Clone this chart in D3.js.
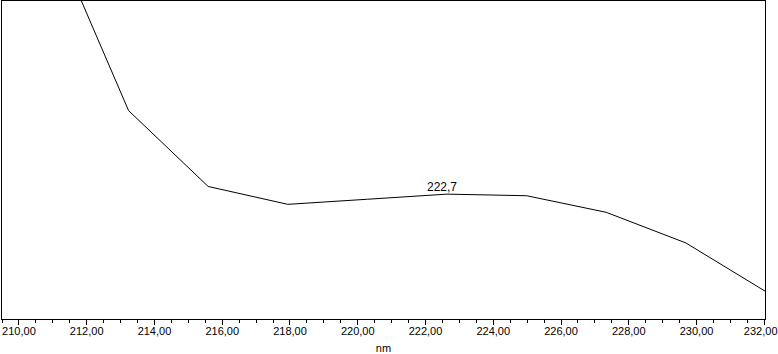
<!DOCTYPE html>
<html><head><meta charset="utf-8">
<script src="https://cdn.jsdelivr.net/npm/d3@7"></script>
<style>body{margin:0;background:#fff}svg{display:block}</style>
</head><body>
<script>
const wavelengths = [210.9, 213.25, 215.6, 217.95, 220.3, 222.65, 225.0, 227.35, 229.7, 232.05];
const absorbance = [1.235, 0.655, 0.417, 0.361, 0.377, 0.393, 0.388, 0.336, 0.240, 0.088];
const majorTicks = [210, 212, 214, 216, 218, 220, 222, 224, 226, 228, 230, 232];
const peakLabel = {x: 222.65, y: 0.393, text: "222,7"};
const xTitle = "nm";

const W = 778, H = 354;
const L = 1.5, R = 765.5, T = 0.5, B = 319.5;
const svg = d3.select("body").append("svg").attr("width", W).attr("height", H);
const x = d3.scaleLinear().domain([209.5, 232.05]).range([L, R]);
const y = d3.scaleLinear().domain([0, 1]).range([B, T]);

svg.append("clipPath").attr("id","c").append("rect")
  .attr("x", L).attr("y", T).attr("width", R-L).attr("height", B-T);

svg.append("rect").attr("x", L).attr("y", T).attr("width", R-L).attr("height", B-T)
  .attr("fill","none").attr("stroke","#000").attr("stroke-width",1);

const data = wavelengths.map((w,i)=>[w, absorbance[i]]);
svg.append("path").datum(data).attr("clip-path","url(#c)")
  .attr("fill","none").attr("stroke","#000").attr("stroke-width",1)
  .attr("d", d3.line().x(d=>x(d[0])).y(d=>y(d[1])));

const minor = d3.range(209.5, 232.01, 0.5).filter(v => Math.abs(v/2 - Math.round(v/2)) > 1e-6);
const ax = svg.append("g").attr("transform", `translate(0,${B})`);
ax.call(d3.axisBottom(x).tickValues(minor).tickSize(3).tickFormat(""));
ax.select(".domain").remove();
const ax2 = svg.append("g").attr("transform", `translate(0,${B})`);
ax2.call(d3.axisBottom(x).tickValues(majorTicks).tickSize(5).tickPadding(3)
  .tickFormat(d => d.toFixed(2).replace(".", ",")));
ax2.select(".domain").remove();
svg.selectAll(".tick line").attr("stroke","#000").attr("shape-rendering","crispEdges");
ax2.selectAll("text").attr("font-family","Liberation Sans, Arial, sans-serif").attr("font-size","11px").attr("fill","#000");
// keep the last label inside the window, as in the reference
ax2.selectAll(".tick").filter(d => d === 232).select("text")
  .attr("text-anchor","end").attr("x", W - 1 - x(232));

svg.append("text").attr("x", (L+R)/2).attr("y", 352).attr("text-anchor","middle")
  .attr("font-family","Liberation Sans, Arial, sans-serif").attr("font-size","11px").text(xTitle);

svg.append("text").attr("x", x(peakLabel.x) - 5).attr("y", y(peakLabel.y) - 3).attr("text-anchor","middle")
  .attr("font-family","Liberation Sans, Arial, sans-serif").attr("font-size","12px").text(peakLabel.text);
</script>
</body></html>
